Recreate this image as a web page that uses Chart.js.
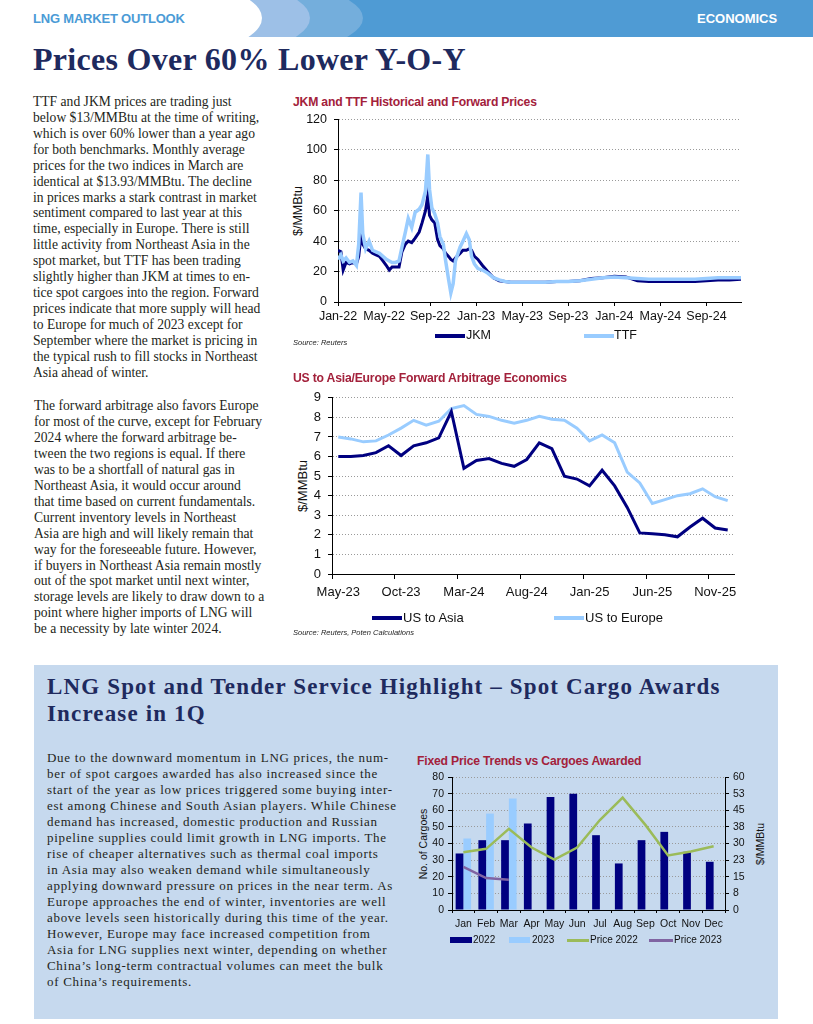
<!DOCTYPE html>
<html>
<head>
<meta charset="utf-8">
<title>LNG Market Outlook - Economics</title>
<script src="https://cdn.jsdelivr.net/npm/chart.js@4.4.1/dist/chart.umd.min.js"></script>
<style>
  html, body { margin: 0; padding: 0; background: #fff; }
  #page { position: relative; width: 813px; height: 1024px; overflow: hidden; }
  .abs { position: absolute; white-space: nowrap; }
  .serif { font-family: 'Liberation Serif', serif; color: #231f20; }
  .sans { font-family: 'Liberation Sans', sans-serif; }
  .chart-title { font-family: 'Liberation Sans', sans-serif; font-weight: bold; font-size: 12.2px; color: #a3213b; letter-spacing: -0.2px; }
  .source { font-family: 'Liberation Sans', sans-serif; font-style: italic; font-size: 7.5px; color: #222; }
  .axis-title { transform: translate(-50%, -50%) rotate(-90deg); font-family: 'Liberation Sans', sans-serif; color: #111; }
  .para div { position: absolute; white-space: nowrap; }
  .swatch { position: absolute; }
  canvas { position: absolute; }
</style>
</head>
<body>
<div id="page">

  <!-- header band -->
  <svg class="abs" style="left:0;top:0" width="813" height="37">
    <rect x="240" y="0" width="573" height="37" fill="#4f9bd4"/>
    <ellipse cx="185" cy="18" rx="178" ry="46" fill="#74aedc"/>
    <ellipse cx="150" cy="18" rx="160" ry="46" fill="#9dc0e7"/>
    <ellipse cx="110" cy="18" rx="152" ry="46" fill="#ffffff"/>
  </svg>
  <div class="abs sans" style="left:33px;top:11px;font-size:13px;font-weight:bold;color:#4b9bd6;letter-spacing:-0.2px">LNG MARKET OUTLOOK</div>
  <div class="abs sans" style="left:697px;top:11px;font-size:13px;font-weight:bold;color:#fff">ECONOMICS</div>

  <div class="abs serif" style="left:33px;top:41px;font-size:32px;font-weight:bold;color:#1e2a5e;letter-spacing:0.3px">Prices Over 60% Lower Y-O-Y</div>

  <!-- left column text -->
  <div class="para serif" id="para1" style="position:absolute;left:33px;top:94px;font-size:13.6px"></div>
  <div class="para serif" id="para2" style="position:absolute;left:34px;top:398px;font-size:13.6px"></div>

  <!-- chart 1 -->
  <div class="abs chart-title" style="left:293px;top:95px">JKM and TTF Historical and Forward Prices</div>
  <div class="abs axis-title" style="left:298px;top:211px;font-size:12.5px">$/MMBtu</div>
  <canvas id="priceChart" width="470" height="225" style="left:285px;top:105px;width:470px;height:225px"></canvas>
  <div class="swatch" style="left:435px;top:334px;width:30px;height:4px;background:#000080"></div>
  <div class="abs sans" style="left:466px;top:328px;font-size:12.5px;color:#111">JKM</div>
  <div class="swatch" style="left:584px;top:334px;width:30px;height:4px;background:#99ccff"></div>
  <div class="abs sans" style="left:614px;top:328px;font-size:12.5px;color:#111">TTF</div>
  <div class="abs source" style="left:293px;top:338px">Source: Reuters</div>

  <!-- chart 2 -->
  <div class="abs chart-title" style="left:293px;top:371px">US to Asia/Europe Forward Arbitrage Economics</div>
  <div class="abs axis-title" style="left:302px;top:486px;font-size:13px">$/MMBtu</div>
  <canvas id="arbChart" width="470" height="222" style="left:285px;top:383px;width:470px;height:222px"></canvas>
  <div class="swatch" style="left:372px;top:616px;width:30px;height:4px;background:#000080"></div>
  <div class="abs sans" style="left:403px;top:610px;font-size:13px;color:#111">US to Asia</div>
  <div class="swatch" style="left:554px;top:616px;width:30px;height:4px;background:#99ccff"></div>
  <div class="abs sans" style="left:585px;top:610px;font-size:13px;color:#111">US to Europe</div>
  <div class="abs source" style="left:293px;top:628px">Source: Reuters, Poten Calculations</div>

  <!-- highlight box -->
  <div class="abs" style="left:34px;top:665px;width:744px;height:354px;background:#c6d9ee"></div>
  <div class="abs serif" style="left:47px;top:673px;font-size:23px;font-weight:bold;color:#1e2a5e;letter-spacing:1.15px;line-height:27px">LNG Spot and Tender Service Highlight – Spot Cargo Awards<br>Increase in 1Q</div>
  <div class="para serif" id="para3" style="position:absolute;left:47px;top:750px;font-size:13px;letter-spacing:0.7px"></div>

  <!-- chart 3 -->
  <div class="abs chart-title" style="left:417px;top:754px">Fixed Price Trends vs Cargoes Awarded</div>
  <div class="abs axis-title" style="left:423px;top:844px;font-size:10.5px">No. of Cargoes</div>
  <div class="abs axis-title" style="left:760px;top:844px;font-size:10.5px">$/MMBtu</div>
  <canvas id="cargoChart" width="370" height="170" style="left:410px;top:765px;width:370px;height:170px"></canvas>
  <div class="swatch" style="left:450px;top:937px;width:22px;height:6px;background:#000080"></div>
  <div class="abs sans" style="left:473px;top:934px;font-size:10px;color:#111">2022</div>
  <div class="swatch" style="left:509px;top:937px;width:21px;height:6px;background:#99ccff"></div>
  <div class="abs sans" style="left:532px;top:934px;font-size:10px;color:#111">2023</div>
  <div class="swatch" style="left:567px;top:939px;width:22px;height:2.5px;background:#9bbb59"></div>
  <div class="abs sans" style="left:590px;top:934px;font-size:10px;color:#111">Price 2022</div>
  <div class="swatch" style="left:649px;top:939px;width:24px;height:2.5px;background:#8064a2"></div>
  <div class="abs sans" style="left:674px;top:934px;font-size:10px;color:#111">Price 2023</div>
</div>

<script>
/* ====================================
   Data
   ==================================== */

// JKM / TTF: months since Jan-22 (daily history thinned, then forward curve)
const priceMonths = [0, 0.25, 0.45, 0.7, 1.0, 1.3, 1.6, 1.8, 2.0, 2.15, 2.4, 2.7, 3.0, 3.3, 3.6, 3.9,
    4.2, 4.45, 4.7, 5.0, 5.3, 5.55, 5.85, 6.1, 6.4, 6.7, 7.05, 7.3, 7.6, 7.8, 7.95, 8.15, 8.4, 8.65,
    8.85, 9.15, 9.35, 9.6, 9.8, 10.0, 10.2, 10.6, 10.85, 11.15, 11.4, 11.6, 11.85, 12.15, 12.55, 13.0,
    13.5, 14.0, 14.5, 15, 16, 17, 18, 19, 20, 21, 22, 23, 24, 25, 26, 27, 28, 29, 30, 31, 32, 33, 34, 35];
const jkmPrices = [34, 33, 21, 26, 25, 26, 25, 30, 44, 38, 35, 34, 32, 31, 30, 27,
    24, 21, 23, 23, 23, 33, 38, 40, 39, 42, 46, 52, 60, 70, 57, 54, 52, 41,
    37, 35, 32, 30, 28, 27, 29, 32, 34, 34, 35, 34, 30, 28, 24, 20,
    16, 14, 13.5, 13, 13, 13, 13, 13.5, 13.5, 14, 15.5, 16, 17, 16.5, 14, 13.5, 13.5, 13.5, 13.5, 13.5, 14, 14.5, 14.5, 15];
const ttfPrices = [28, 31, 27, 29, 26, 27, 24, 38, 72, 45, 35, 40, 34, 33, 32, 30,
    28, 27, 26, 26, 27, 36, 46, 55, 49, 59, 61, 64, 73, 97, 74, 62, 58, 52,
    43, 38, 27, 15, 6, 12, 27, 36, 40, 45, 41, 30, 25, 22, 21, 19,
    16, 14.5, 13.5, 13, 13, 13, 13, 13.5, 13.5, 14, 15, 16, 16.5, 16, 15.5, 15, 15, 15, 15, 15, 15.5, 16, 16, 16];
const priceTickLabels = ['Jan-22', 'May-22', 'Sep-22', 'Jan-23', 'May-23', 'Sep-23', 'Jan-24', 'May-24', 'Sep-24'];

// Forward arbitrage, May-23 .. Dec-25
const arbMonths = ['May-23', 'Jun-23', 'Jul-23', 'Aug-23', 'Sep-23', 'Oct-23', 'Nov-23', 'Dec-23',
    'Jan-24', 'Feb-24', 'Mar-24', 'Apr-24', 'May-24', 'Jun-24', 'Jul-24', 'Aug-24',
    'Sep-24', 'Oct-24', 'Nov-24', 'Dec-24', 'Jan-25', 'Feb-25', 'Mar-25', 'Apr-25',
    'May-25', 'Jun-25', 'Jul-25', 'Aug-25', 'Sep-25', 'Oct-25', 'Nov-25', 'Dec-25'];
const usToAsia = [6.0, 6.0, 6.05, 6.2, 6.55, 6.05, 6.55, 6.7, 6.95, 8.3, 5.4, 5.8, 5.9, 5.65, 5.5, 5.85,
    6.7, 6.4, 5.0, 4.85, 4.5, 5.3, 4.5, 3.4, 2.1, 2.05, 2.0, 1.9, 2.4, 2.85, 2.35, 2.25];
const usToEurope = [7.0, 6.9, 6.75, 6.8, 7.1, 7.45, 7.85, 7.6, 7.8, 8.45, 8.6, 8.15, 8.05, 7.85, 7.7, 7.85,
    8.05, 7.9, 7.85, 7.45, 6.8, 7.1, 6.7, 5.2, 4.65, 3.6, 3.8, 4.0, 4.1, 4.35, 3.95, 3.75];

// Spot cargoes awarded and fixed prices
const cargoMonths = ['Jan', 'Feb', 'Mar', 'Apr', 'May', 'Jun', 'Jul', 'Aug', 'Sep', 'Oct', 'Nov', 'Dec'];
const cargoes2022 = [34, 42, 42, 52, 68, 70, 45, 28, 42, 47, 35, 29];
const cargoes2023 = [43, 58, 67];
const price2022 = [26.1, 27.6, 36.6, 28.2, 22.7, 28.2, 40.6, 50.7, 38.4, 24.6, 26.4, 28.8];
const price2023 = [19.4, 14.4, 13.7];

/* ====================================
   Text
   ==================================== */

const para1Lines = [
    'TTF and JKM prices are trading just',
    'below $13/MMBtu at the time of writing,',
    'which is over 60% lower than a year ago',
    'for both benchmarks. Monthly average',
    'prices for the two indices in March are',
    'identical at $13.93/MMBtu. The decline',
    'in prices marks a stark contrast in market',
    'sentiment compared to last year at this',
    'time, especially in Europe. There is still',
    'little activity from Northeast Asia in the',
    'spot market, but TTF has been trading',
    'slightly higher than JKM at times to en-',
    'tice spot cargoes into the region. Forward',
    'prices indicate that more supply will head',
    'to Europe for much of 2023 except for',
    'September where the market is pricing in',
    'the typical rush to fill stocks in Northeast',
    'Asia ahead of winter.'
];
const para2Lines = [
    'The forward arbitrage also favors Europe',
    'for most of the curve, except for February',
    '2024 where the forward arbitrage be-',
    'tween the two regions is equal. If there',
    'was to be a shortfall of natural gas in',
    'Northeast Asia, it would occur around',
    'that time based on current fundamentals.',
    'Current inventory levels in Northeast',
    'Asia are high and will likely remain that',
    'way for the foreseeable future. However,',
    'if buyers in Northeast Asia remain mostly',
    'out of the spot market until next winter,',
    'storage levels are likely to draw down to a',
    'point where higher imports of LNG will',
    'be a necessity by late winter 2024.'
];
const para3Lines = [
    'Due to the downward momentum in LNG prices, the num-',
    'ber of spot cargoes awarded has also increased since the',
    'start of the year as low prices triggered some buying inter-',
    'est among Chinese and South Asian players. While Chinese',
    'demand has increased, domestic production and Russian',
    'pipeline supplies could limit growth in LNG imports. The',
    'rise of cheaper alternatives such as thermal coal imports',
    'in Asia may also weaken demand while simultaneously',
    'applying downward pressure on prices in the near term. As',
    'Europe approaches the end of winter, inventories are well',
    'above levels seen historically during this time of the year.',
    'However, Europe may face increased competition from',
    'Asia for LNG supplies next winter, depending on whether',
    'China’s long-term contractual volumes can meet the bulk',
    'of China’s requirements.'
];

function fillLines(id, lines, step) {
    const box = document.getElementById(id);
    lines.forEach((text, i) => {
        const d = document.createElement('div');
        d.style.top = (i * step) + 'px';
        d.style.left = '0px';
        d.textContent = text;
        box.appendChild(d);
    });
}
fillLines('para1', para1Lines, 15.92);
fillLines('para2', para2Lines, 15.95);
fillLines('para3', para3Lines, 16);

/* ====================================
   Charts
   ==================================== */

Chart.defaults.font.family = "'Liberation Sans', sans-serif";
Chart.defaults.color = '#111';
Chart.defaults.animation = false;

const GRID_GREY = '#9a9a9a';

// JKM and TTF
new Chart(document.getElementById('priceChart'), {
    type: 'line',
    data: {
        datasets: [{
            label: 'JKM',
            data: priceMonths.map((m, i) => ({ x: m, y: jkmPrices[i] })),
            borderColor: '#000080',
            borderWidth: 3,
            pointRadius: 0,
            order: 1
        }, {
            label: 'TTF',
            data: priceMonths.map((m, i) => ({ x: m, y: ttfPrices[i] })),
            borderColor: '#99ccff',
            borderWidth: 3.5,
            pointRadius: 0,
            order: 0
        }]
    },
    options: {
        responsive: false,
        layout: { padding: { top: 10, right: 14, left: 0, bottom: 0 } },
        plugins: { legend: { display: false }, tooltip: { enabled: false } },
        scales: {
            x: {
                type: 'linear',
                min: 0,
                max: 35,
                afterFit: (scale) => { scale.height = 28; },
                ticks: {
                    stepSize: 4,
                    includeBounds: false,
                    autoSkip: false,
                    maxRotation: 0,
                    padding: 3,
                    font: { size: 12.5 },
                    callback: (v) => priceTickLabels[v / 4]
                },
                grid: { drawOnChartArea: false, tickLength: 4, tickColor: '#000' },
                border: { color: '#000' }
            },
            y: {
                min: 0,
                max: 120,
                afterFit: (scale) => { scale.width = 53; },
                ticks: { stepSize: 20, padding: 7, font: { size: 12.5 } },
                grid: { color: GRID_GREY, tickLength: 4, tickColor: '#000', tickBorderDash: [] },
                border: { color: '#000', dash: [1, 2] }
            }
        }
    }
});

// US to Asia / Europe arbitrage
new Chart(document.getElementById('arbChart'), {
    type: 'line',
    data: {
        labels: arbMonths,
        datasets: [{
            label: 'US to Asia',
            data: usToAsia,
            borderColor: '#000080',
            borderWidth: 3,
            pointRadius: 0
        }, {
            label: 'US to Europe',
            data: usToEurope,
            borderColor: '#99ccff',
            borderWidth: 3,
            pointRadius: 0
        }]
    },
    options: {
        responsive: false,
        layout: { padding: { top: 13, right: 21, left: 0, bottom: 0 } },
        plugins: { legend: { display: false }, tooltip: { enabled: false } },
        scales: {
            x: {
                offset: true,
                afterFit: (scale) => { scale.height = 31; },
                ticks: {
                    autoSkip: false,
                    maxRotation: 0,
                    padding: 6,
                    font: { size: 13 },
                    callback: (v, i) => (i % 5 === 0 ? arbMonths[i] : '')
                },
                grid: {
                    offset: true,
                    drawOnChartArea: false,
                    tickLength: 5,
                    tickColor: (ctx) => (ctx.index % 5 === 0 ? '#000' : 'rgba(0,0,0,0)')
                },
                border: { color: '#000' }
            },
            y: {
                min: 0,
                max: 9,
                afterFit: (scale) => { scale.width = 47; },
                ticks: { stepSize: 1, padding: 7, font: { size: 13 } },
                grid: { color: GRID_GREY, tickLength: 4, tickColor: '#000', tickBorderDash: [] },
                border: { color: '#000', dash: [1, 2] }
            }
        }
    }
});

// Cargoes awarded vs fixed prices
new Chart(document.getElementById('cargoChart'), {
    type: 'bar',
    data: {
        labels: cargoMonths,
        datasets: [{
            type: 'line',
            label: 'Price 2022',
            data: price2022,
            yAxisID: 'y2',
            borderColor: '#9bbb59',
            borderWidth: 2.5,
            pointRadius: 0,
            order: 0
        }, {
            type: 'line',
            label: 'Price 2023',
            data: price2023,
            yAxisID: 'y2',
            borderColor: '#8064a2',
            borderWidth: 2.5,
            pointRadius: 0,
            order: 0
        }, {
            label: '2022',
            data: cargoes2022,
            backgroundColor: '#000080',
            categoryPercentage: 0.68,
            barPercentage: 1.0,
            order: 1
        }, {
            label: '2023',
            data: cargoes2023,
            backgroundColor: '#99ccff',
            categoryPercentage: 0.68,
            barPercentage: 1.0,
            order: 1
        }]
    },
    options: {
        responsive: false,
        layout: { padding: { top: 12, right: 0, left: 0, bottom: 0 } },
        plugins: { legend: { display: false }, tooltip: { enabled: false } },
        scales: {
            x: {
                afterFit: (scale) => { scale.height = 25; },
                ticks: { autoSkip: false, maxRotation: 0, padding: 5, font: { size: 10.5 } },
                grid: { offset: true, drawOnChartArea: false, tickLength: 3, tickColor: '#000' },
                border: { color: '#000' }
            },
            y: {
                position: 'left',
                min: 0,
                max: 80,
                afterFit: (scale) => { scale.width = 42; },
                ticks: { stepSize: 10, padding: 4, font: { size: 10.5 } },
                grid: { color: GRID_GREY, tickLength: 4, tickColor: '#000', tickBorderDash: [] },
                border: { color: '#000', dash: [1, 2] }
            },
            y2: {
                position: 'right',
                min: 0,
                max: 60,
                afterFit: (scale) => { scale.width = 55; },
                ticks: { stepSize: 7.5, padding: 4, font: { size: 10.5 }, callback: (v) => Math.round(v) },
                grid: { drawOnChartArea: false, tickLength: 4, tickColor: '#000' },
                border: { color: '#000' }
            }
        }
    }
});
</script>
</body>
</html>
